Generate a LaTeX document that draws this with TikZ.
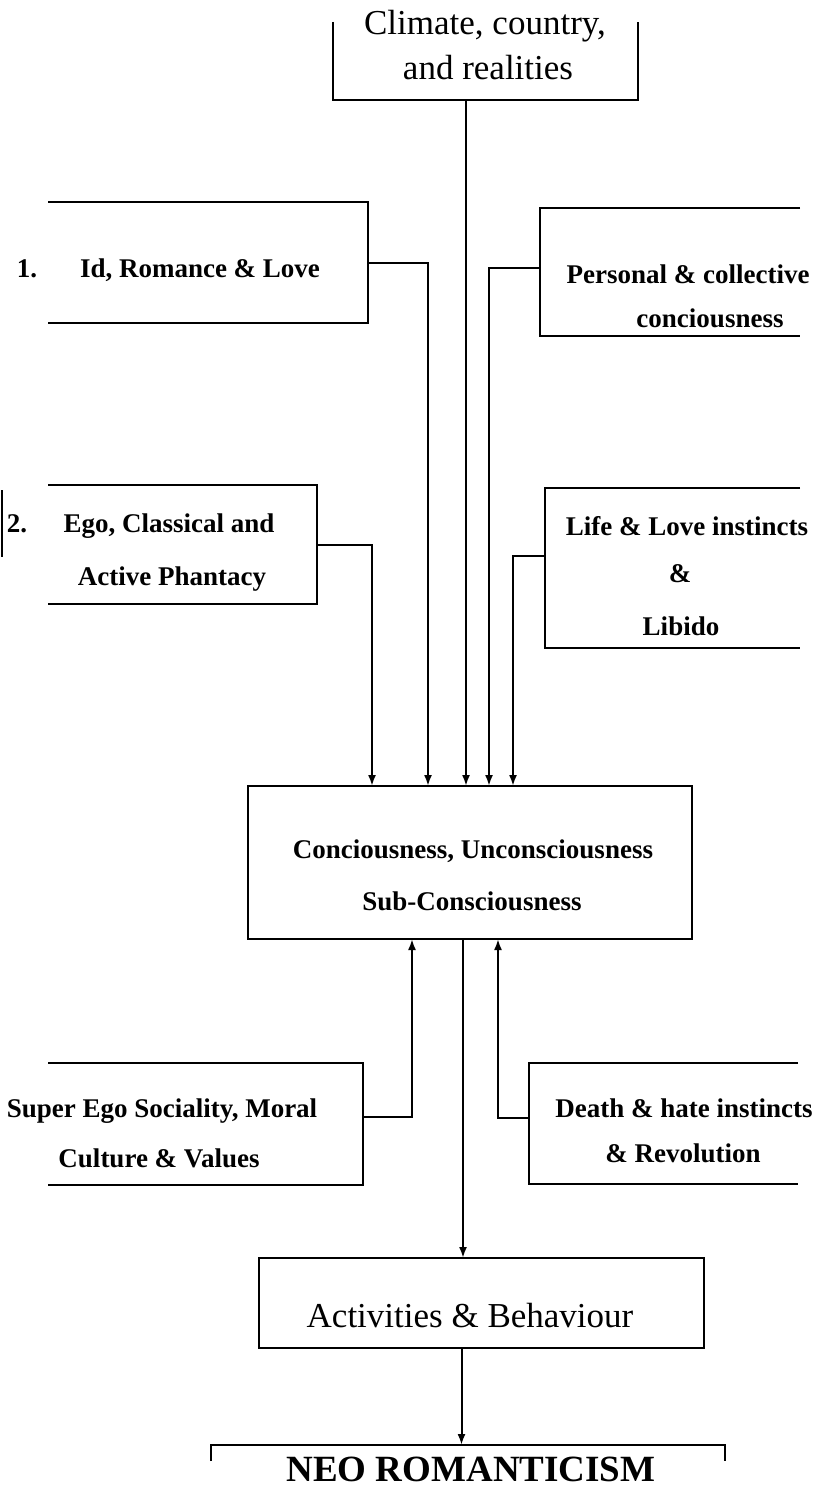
\documentclass[tikz,border=0pt]{standalone}
\usepackage{fontspec}
\setmainfont{Liberation Serif}
\usetikzlibrary{arrows.meta,calc}
\tikzset{
  boxline/.style={line width=2.6pt},
  box/.style={inner sep=0pt,outer sep=0pt},
  link/.style={line width=2pt,-{Latex[length=11pt,width=8pt]}},
  lbl/.style={font=\fontsize{27}{32}\selectfont\bfseries,inner sep=0pt,anchor=base},
  big/.style={font=\fontsize{35}{40}\selectfont,inner sep=0pt,anchor=base},
}
\begin{document}
\begin{tikzpicture}[x=1pt,y=-1pt]
\path[fill=white,use as bounding box] (0,0) rectangle (822,1490);
% boxes
\node[box,minimum width=305pt,minimum height=78pt] (clim) at (485.5,61) {};
\node[box,minimum width=320pt,minimum height=121pt] (id) at (208,262.5) {};
\node[box,minimum width=260pt,minimum height=128pt] (pers) at (670,272) {};
\node[box,minimum width=269pt,minimum height=119pt] (ego) at (182.5,544.5) {};
\node[box,minimum width=255pt,minimum height=160pt] (life) at (672.5,568) {};
\node[box,minimum width=444pt,minimum height=153pt] (centre) at (470,862.5) {};
\node[box,minimum width=315pt,minimum height=122pt] (sup) at (205.5,1124) {};
\node[box,minimum width=269pt,minimum height=121pt] (dth) at (663.5,1123.5) {};
\node[box,minimum width=445pt,minimum height=90pt] (act) at (481.5,1303) {};
\node[box,minimum width=514pt,minimum height=40pt] (neo) at (468,1465) {};
% texts
\node[big] (clim1) at (485,35) {Climate, country,};
\node[big] (clim2) at (488,80) {and realities};
\node[lbl] (num1) at (27,277) {1.};
\node[lbl] (id1) at (200,277) {Id, Romance \& Love};
\node[lbl] (pers1) at (688,283) {Personal \& collective};
\node[lbl] (pers2) at (710,327) {conciousness};
\node[lbl] (num2) at (17,532) {2.};
\node[lbl] (ego1) at (169,532) {Ego, Classical and};
\node[lbl] (ego2) at (172,585) {Active Phantacy};
\node[lbl] (life1) at (687,535) {Life \& Love instincts};
\node[lbl] (life2) at (680,582) {\&};
\node[lbl] (life3) at (681,635) {Libido};
\node[lbl] (cen1) at (473,858) {Conciousness, Unconsciousness};
\node[lbl] (cen2) at (472,910) {Sub-Consciousness};
\node[lbl] (sup1) at (162,1117) {Super Ego Sociality, Moral};
\node[lbl] (sup2) at (159,1167) {Culture \& Values};
\node[lbl] (dth1) at (684,1117) {Death \& hate instincts};
\node[lbl] (dth2) at (683,1162) {\& Revolution};
\node[big] (act1) at (470,1327) {Activities \& Behaviour};
\node[big,font=\fontsize{37}{44}\selectfont\bfseries] (neo1) at (471,1481) {NEO ROMANTICISM};
% outlines (open sides are cut off in the scan)
\draw[boxline] (clim.north west) -- (clim.south west) -- (clim.south east) -- (clim.north east);
\foreach \bx in {id,ego,sup}
  \draw[boxline] (\bx.north west) -- (\bx.north east) -- (\bx.south east) -- (\bx.south west);
\foreach \bx in {pers,life,dth}
  \draw[boxline] (\bx.north east) -- (\bx.north west) -- (\bx.south west) -- (\bx.south east);
\foreach \bx in {centre,act}
  \draw[boxline] (\bx.north west) rectangle (\bx.south east);
\draw[boxline] ([yshift=-16pt]neo.north west) -- (neo.north west) -- (neo.north east) -- ([yshift=-16pt]neo.north east);
\draw[boxline] (2,490) -- (2,557);
% connectors
\draw[link] ($(clim.south)+(-19.5,0)$) -- ($(centre.north)+(-4,0)$);
\draw[link] (id.east) -| ($(centre.north)+(-42,0)$);
\draw[link] ($(pers.west)+(0,-4)$) -| ($(centre.north)+(19,0)$);
\draw[link] (ego.east) -| ($(centre.north)+(-98,0)$);
\draw[link] ($(life.west)+(0,-12)$) -| ($(centre.north)+(43,0)$);
\draw[link] ($(sup.east)+(0,-7)$) -| ($(centre.south)+(-58,0)$);
\draw[link] ($(dth.west)+(0,-6)$) -| ($(centre.south)+(28,0)$);
\draw[link] ($(centre.south)+(-7,0)$) -- ($(act.north)+(-18.5,0)$);
\draw[link] ($(act.south)+(-20,0)$) -- ($(neo.north)+(-6.5,0)$);
\end{tikzpicture}
\end{document}
